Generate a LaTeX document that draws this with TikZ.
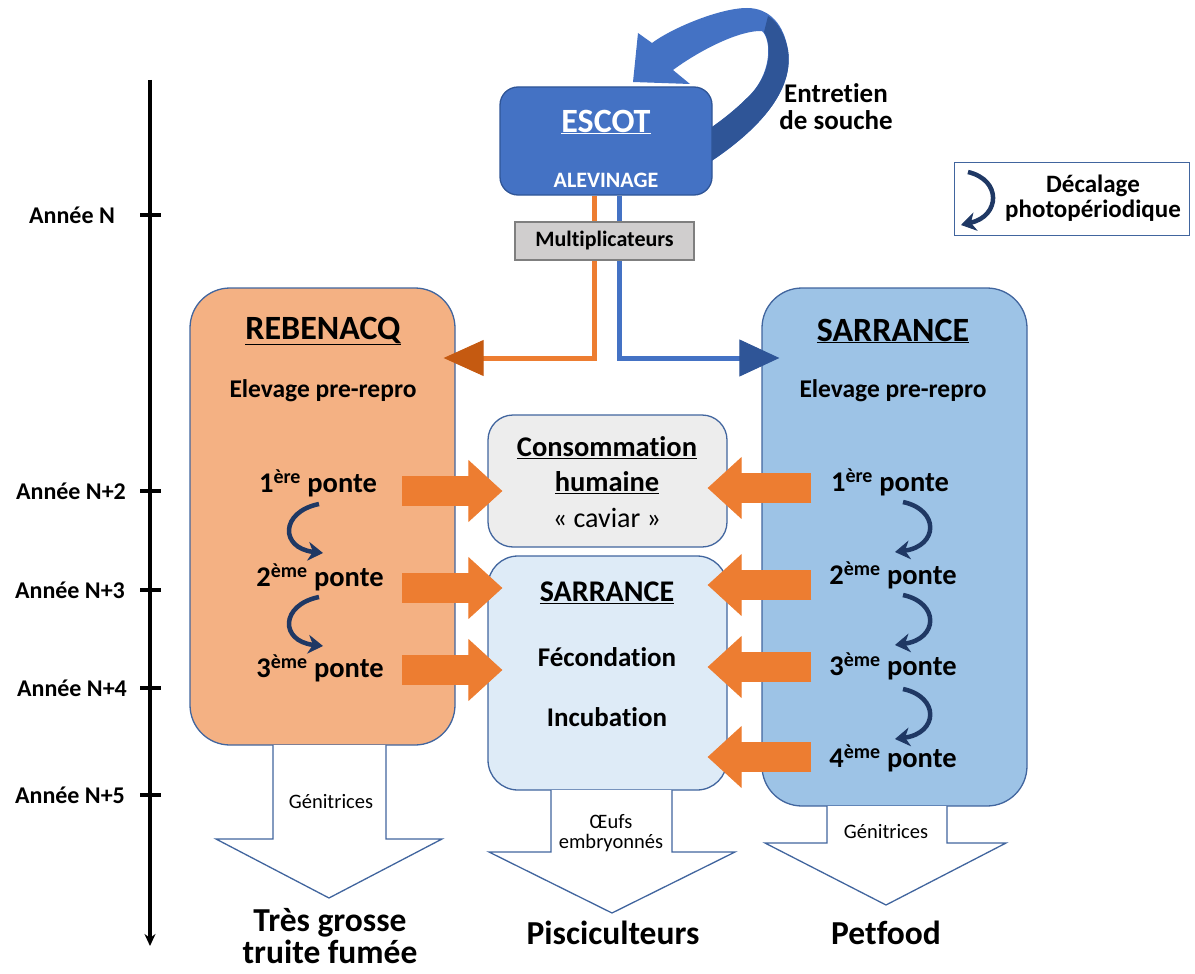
\documentclass[tikz,border=0pt]{standalone}
\usepackage{fontspec}
\setmainfont{Carlito}[Ligatures=NoCommon]
\usetikzlibrary{arrows.meta}
\definecolor{escotblue}{HTML}{4472C4}
\definecolor{escotdark}{HTML}{2F5597}
\definecolor{boxblue}{HTML}{41659E}
\definecolor{orangeflow}{HTML}{ED7D31}
\definecolor{orangedark}{HTML}{C55A11}
\definecolor{rebfill}{HTML}{F4B183}
\definecolor{sarrfill}{HTML}{9DC3E6}
\definecolor{consofill}{HTML}{EDEDED}
\definecolor{midfill}{HTML}{DEEBF7}
\definecolor{multifill}{HTML}{D0CECE}
\definecolor{multiborder}{HTML}{7F7F7F}
\definecolor{navy}{HTML}{1F3864}
\newcommand{\setfs}[1]{\fontsize{#1}{1.15\dimexpr#1pt\relax}\selectfont}
\begin{document}
\begin{tikzpicture}[x=1pt,y=-1pt]
    \tikzset{box/.style = {draw=boxblue,line width=1.3pt,rounded corners=#1,inner sep=0pt}}
    \tikzset{title/.style = {font=\bfseries\setfs{34}}}
    \tikzset{label/.style = {font=\bfseries\setfs{25.5}}}
    \tikzset{ponte/.style = {font=\bfseries\setfs{28.5}}}
    \tikzset{year/.style = {font=\bfseries\setfs{24}}}
    \tikzset{outlet/.style = {font=\bfseries\setfs{33.5},align=center}}
    \tikzset{small/.style = {font=\setfs{20.5},align=center}}
    \tikzset{blockarrow/.style = {draw=orangeflow,line width=30pt,-{Triangle[length=34pt,width=62pt,line width=1pt,color=orangeflow]}}}
    \tikzset{shiftarrow/.style = {draw=navy,line width=4.5pt,-{Stealth[length=15pt,width=19pt,line width=1pt]}}}
    \tikzset{hollow/.style = {draw=boxblue,line width=1.3pt,fill=white}}
    \useasboundingbox (0,0) rectangle (1195,974);
    % time axis
    \draw[line width=3.5pt,-{Stealth[length=12pt,width=11pt]}] (150,80) -- (150,946);
    \draw[line width=3.5pt] (140,215) -- (161,215);
    \draw[line width=3.5pt] (140,491) -- (161,491);
    \draw[line width=3.5pt] (140,590) -- (161,590);
    \draw[line width=3.5pt] (140,688) -- (161,688);
    \draw[line width=3.5pt] (140,795) -- (161,795);
    \node[year] (yn) at (72,215) {Année N};
    \node[year] (yn2) at (71,491) {Année N+2};
    \node[year] (yn3) at (70,590) {Année N+3};
    \node[year] (yn4) at (72,688) {Année N+4};
    \node[year] (yn5) at (70,795) {Année N+5};
    % strain loop
    \fill[escotblue] (705,165) -- (713,160) .. controls (750,135) and (795,95) .. (788,50)
        .. controls (784,25) and (770,8) .. (747,8) .. controls (720,8) and (672,28) .. (652,43)
        -- (638,33) -- (633,82) -- (690,84) -- (673,70)
        .. controls (700,50) and (740,30) .. (762,31) .. controls (772,40) and (772,75) .. (747,98)
        .. controls (735,110) and (722,120) .. (712,127) -- (705,127) -- cycle;
    \fill[escotdark] (713,160) .. controls (750,135) and (795,95) .. (788,50)
        .. controls (785,35) and (778,22) .. (768,16) -- (764,32)
        .. controls (772,45) and (772,75) .. (747,98) .. controls (735,110) and (722,120) .. (712,127)
        -- (705,127) -- (705,165) -- cycle;
    \node[font=\bfseries\setfs{27},align=center] (souche) at (836,107) {Entretien\\[-4pt]de souche};
    % hatchery
    \node[box=18,draw=escotdark,fill=escotblue,minimum width=212pt,minimum height=108pt] (escot) at (606,141) {};
    \node[title,text=white] (escott) at (606,122) {\underline{ESCOT}};
    \node[font=\bfseries\setfs{22},text=white] (alev) at (606,180) {ALEVINAGE};
    % sites
    \node[box=40,fill=rebfill,minimum width=265pt,minimum height=457pt] (reb) at (322.5,516.5) {};
    \node[box=40,fill=sarrfill,minimum width=265pt,minimum height=518pt] (sarr) at (894.5,547) {};
    \node[box=25,fill=consofill,minimum width=239pt,minimum height=132pt] (conso) at (607.5,481) {};
    \node[box=30,fill=midfill,minimum width=239pt,minimum height=234pt] (mid) at (607.5,673) {};
    % supply lines
    \coordinate (orangeturn) at (594,358);
    \coordinate (blueturn) at (619,358);
    \draw[orangeflow,line width=5pt,-{Triangle[length=40pt,width=36pt,line width=1pt,color=orangedark]}]
        (escot.south -| orangeturn) -- (orangeturn) -- ([xshift=-12]reb.east |- orangeturn);
    \draw[escotblue,line width=5pt,-{Triangle[length=40pt,width=37pt,line width=1pt,color=escotdark]}]
        (escot.south -| blueturn) -- (blueturn) -- ([xshift=18]sarr.west |- blueturn);
    \node[draw=multiborder,line width=1.3pt,fill=multifill,minimum width=179pt,minimum height=38pt,font=\bfseries\setfs{22}] (multi) at (604.5,241) {Multiplicateurs};
    % texts of the sites
    \node[title] (rebt) at (323,331) {\underline{REBENACQ}};
    \node[label] (rebe) at (323,391) {Elevage pre-repro};
    \node[ponte] (r1) at (318,483) {1\textsuperscript{ère} ponte};
    \node[ponte] (r2) at (320,577) {2\textsuperscript{ème} ponte};
    \node[ponte] (r3) at (320,668) {3\textsuperscript{ème} ponte};
    \node[title] (sarrt) at (893,331) {\underline{SARRANCE}};
    \node[label] (sarre) at (893,391) {Elevage pre-repro};
    \node[ponte] (s1) at (890,482) {1\textsuperscript{ère} ponte};
    \node[ponte] (s2) at (893,575) {2\textsuperscript{ème} ponte};
    \node[ponte] (s3) at (893,666) {3\textsuperscript{ème} ponte};
    \node[ponte] (s4) at (893,758) {4\textsuperscript{ème} ponte};
    \node[ponte] (consot) at (607,448) {\underline{Consommation}};
    \node[ponte] (consoh) at (607,483) {\underline{humaine}};
    \node[font=\setfs{28}] (caviar) at (607,518) {« caviar »};
    \node[ponte,font=\bfseries\setfs{30}] (midt) at (607,593) {\underline{SARRANCE}};
    \node[label,font=\bfseries\setfs{27}] (fec) at (607,657) {Fécondation};
    \node[label,font=\bfseries\setfs{27}] (inc) at (607,717) {Incubation};
    % egg flows
    \draw[blockarrow] ([xshift=22]r1.east |- 0,491) -- ([xshift=15]conso.west |- 0,491);
    \draw[blockarrow] ([xshift=22]r1.east |- 0,588) -- ([xshift=15]mid.west |- 0,588);
    \draw[blockarrow] ([xshift=22]r1.east |- 0,670) -- ([xshift=15]mid.west |- 0,670);
    \draw[blockarrow] ([xshift=50]sarr.west |- 0,488) -- ([xshift=-20]conso.east |- 0,488);
    \draw[blockarrow] ([xshift=50]sarr.west |- 0,585) -- ([xshift=-20]mid.east |- 0,585);
    \draw[blockarrow] ([xshift=50]sarr.west |- 0,667) -- ([xshift=-20]mid.east |- 0,667);
    \draw[blockarrow] ([xshift=50]sarr.west |- 0,757) -- ([xshift=-20]mid.east |- 0,757);
    % photoperiod shifts
    \draw[shiftarrow] (319,504) .. controls (280,512) and (280,548) .. (323,553);
    \draw[shiftarrow] (319,597) .. controls (280,605) and (280,641) .. (323,646);
    \draw[shiftarrow] (903,502) .. controls (940,510) and (938,546) .. (895,552);
    \draw[shiftarrow] (903,595) .. controls (940,603) and (938,639) .. (895,645);
    \draw[shiftarrow] (903,689) .. controls (940,697) and (938,733) .. (895,739);
    % outputs
    \draw[hollow] (273,745) -- (273,839) -- (216,839) -- (329,898) -- (442,839) -- (386,839) -- (386,745);
    \draw[hollow] (551,790) -- (551,852) -- (489,852) -- (612,913) -- (735,852) -- (672,852) -- (672,790);
    \draw[hollow] (827,806) -- (827,843) -- (765,843) -- (886,905) -- (1006,843) -- (947,843) -- (947,806);
    \node[small] (genl) at (331,802) {Génitrices};
    \node[small,fill=white,inner sep=1pt] (oeufs) at (611,833) {Œufs\\[-3pt]embryonnés};
    \node[small] (genr) at (886,832) {Génitrices};
    \node[outlet] (truite) at (330,936) {Très grosse\\[-7pt]truite fumée};
    \node[outlet] (pisci) at (613,933) {Pisciculteurs};
    \node[outlet] (pet) at (886,933) {Petfood};
    % legend
    \node[draw=boxblue,line width=1.8pt,minimum width=235pt,minimum height=73pt] (legend) at (1072,199) {};
    \node[font=\bfseries\setfs{25},align=center] (legendt) at (1093,198) {Décalage\\[-4pt]photopériodique};
    \draw[shiftarrow] (968,172) .. controls (1002,180) and (1000,216) .. (961,225);
\end{tikzpicture}
\end{document}
